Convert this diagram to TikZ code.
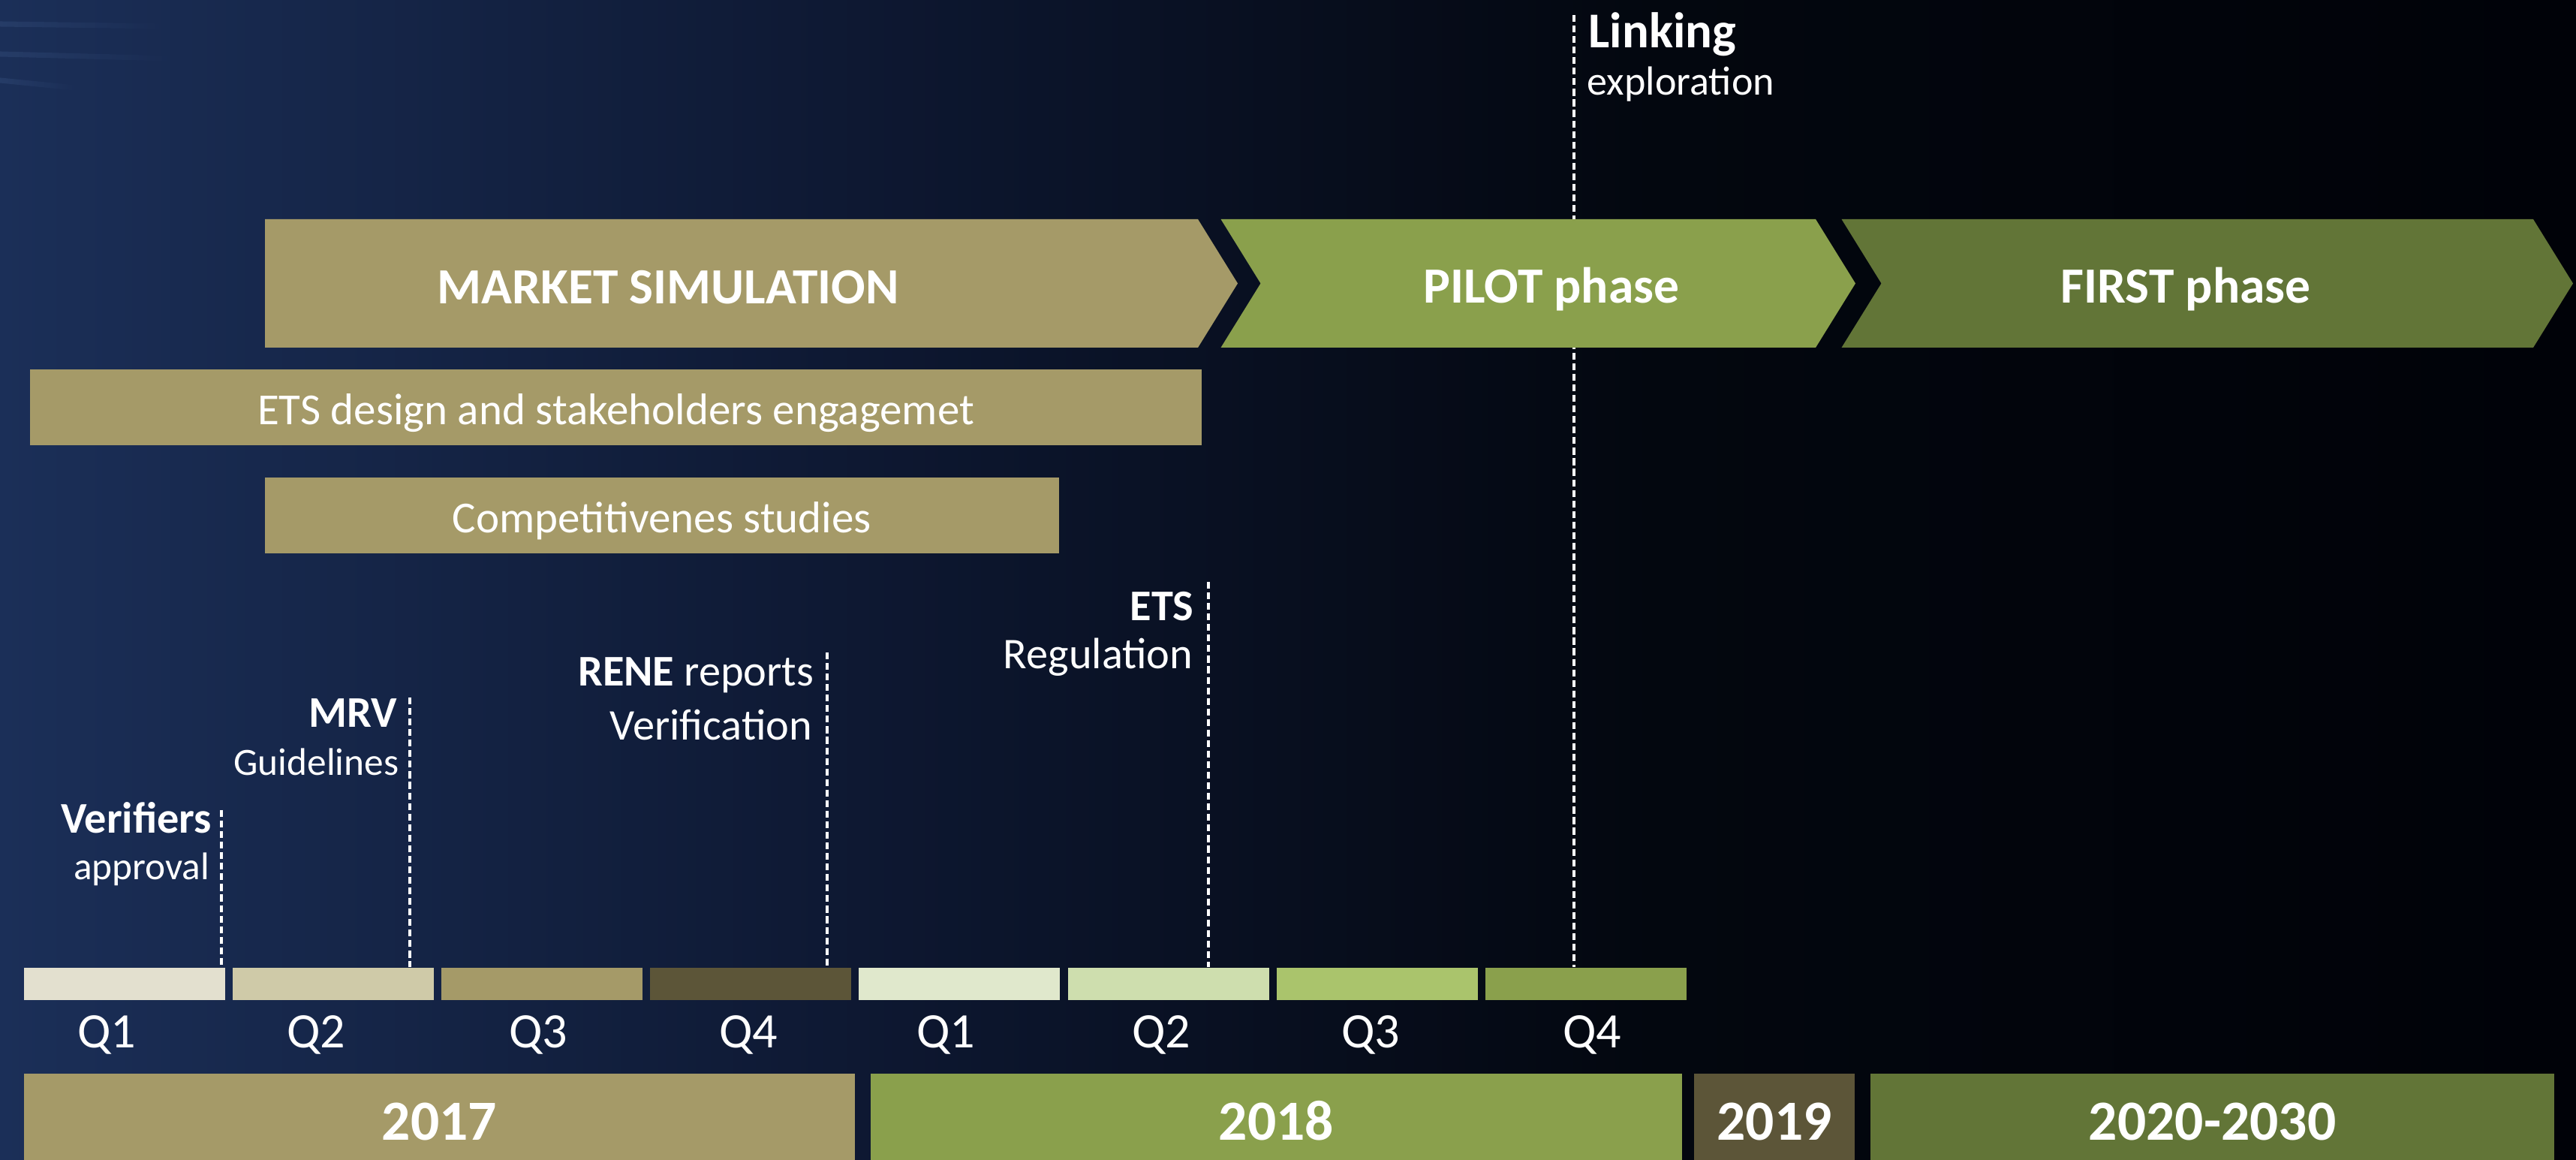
\documentclass[tikz,border=0pt]{standalone}
\usepackage{fontspec}
\setmainfont{Carlito}
\usetikzlibrary{fadings}
\definecolor{bgA}{HTML}{1B2F58}
\definecolor{bgB}{HTML}{0D1730}
\definecolor{bgC}{HTML}{03070F}
\definecolor{bgD}{HTML}{000208}
\definecolor{streakblue}{HTML}{5A7BB0}
\definecolor{sand}{HTML}{A59A68}
\definecolor{pilot}{HTML}{8AA04C}
\definecolor{firstgreen}{HTML}{627537}
\definecolor{umber}{HTML}{5C5538}
\definecolor{qsandA}{HTML}{E3E0CF}
\definecolor{qsandB}{HTML}{CFCAA8}
\definecolor{qgreenA}{HTML}{E0E8CC}
\definecolor{qgreenB}{HTML}{CEDEAE}
\definecolor{qgreenC}{HTML}{AAC46C}
\begin{document}
\begin{tikzpicture}[
    phase/.style ={text=white, anchor=base, inner sep=0pt,
        font=\fontsize{19.2pt}{23pt}\selectfont\bfseries},
    taskbar/.style ={fill=sand, text=white, inner sep=0pt,
        text height=0.74cm, text depth=0.27cm,
        font=\fontsize{16.8pt}{20pt}\selectfont},
    qbar/.style ={rectangle, inner sep=0pt, minimum width=2.68cm, minimum height=0.43cm},
    qlabel/.style ={text=white, anchor=base, inner sep=0pt,
        font=\fontsize{18.8pt}{22pt}\selectfont},
    yearbar/.style ={fill=#1, text=white, inner sep=0pt,
        text height=0.89cm, text depth=0.26cm,
        font=\fontsize{21.5pt}{26pt}\selectfont\bfseries},
    milestone/.style ={text=white, inner sep=0pt,
        font=\fontsize{16.6pt}{20pt}\selectfont\bfseries},
    subnote/.style ={text=white, inner sep=0pt,
        font=\fontsize{16.6pt}{20pt}\selectfont},
    guide/.style ={white, line width=1pt, dash pattern=on 2.6pt off 1.4pt},
    streak/.style ={streakblue, line width=2pt, line cap=round, opacity=0.18, path fading=east}]

   % background
   \useasboundingbox (0,0) rectangle (34.32,15.45);
   \shade[left color=bgA, right color=bgB] (0,0) rectangle (12.02,15.45);
   \shade[left color=bgB, right color=bgC] (12,0) rectangle (22.02,15.45);
   \shade[left color=bgC, right color=bgD] (22,0) rectangle (34.32,15.45);
   \draw[streak] (0,15.13) -- (2.2,15.10);
   \draw[streak] (0,14.73) -- (2.3,14.67);
   \draw[streak] (0,14.38) -- (1.0,14.28);

   % quarters
   \foreach \i/\col/\lx/\q in {0/qsandA/1.42/Q1, 1/qsandB/4.21/Q2, 2/sand/7.17/Q3, 3/umber/9.97/Q4,
       4/qgreenA/12.60/Q1, 5/qgreenB/15.47/Q2, 6/qgreenC/18.26/Q3, 7/pilot/21.21/Q4} {
      \node[qbar, fill=\col] (q\i) at (1.66+2.781*\i,2.345) {};
      \node[qlabel] (ql\i) at (\lx,1.49) {\q};
   }

   % milestones
   \coordinate (verifiers top) at (2.95,4.66);
   \coordinate (mrv top) at (5.46,6.16);
   \coordinate (rene top) at (11.02,6.76);
   \coordinate (ets top) at (16.10,7.70);
   \coordinate (linking top) at (20.97,15.25);
   \draw[guide] (verifiers top) -- (verifiers top |- q0.north);
   \draw[guide] (mrv top) -- (mrv top |- q1.north);
   \draw[guide] (rene top) -- (rene top |- q3.north);
   \draw[guide] (ets top) -- (ets top |- q5.north);
   \draw[guide] (linking top) -- (linking top |- q7.north);

   \node[milestone, anchor=base east] (verifiers) at (2.83,4.357) {Verifiers};
   \node[subnote, anchor=base east, font=\fontsize{14.6pt}{18pt}\selectfont] (approval) at (2.80,3.733) {approval};
   \node[milestone, anchor=base east] (mrv) at (5.30,5.76) {MRV};
   \node[subnote, anchor=base east, font=\fontsize{14.6pt}{18pt}\selectfont] (guidelines) at (5.32,5.12) {Guidelines};
   \node[subnote, anchor=base east] (rene) at (10.85,6.31) {\textbf{RENE} reports};
   \node[subnote, anchor=base east] (verification) at (10.83,5.59) {Verification};
   \node[milestone, anchor=base east] (ets) at (15.91,7.183) {ETS};
   \node[subnote, anchor=base east] (regulation) at (15.90,6.54) {Regulation};
   \node[milestone, anchor=base west, font=\fontsize{19pt}{23pt}\selectfont\bfseries] (linking) at (21.16,14.817) {Linking};
   \node[subnote, anchor=base west, font=\fontsize{15.4pt}{19pt}\selectfont] (exploration) at (21.14,14.183) {exploration};

   % phases
   \fill[sand] (3.53,12.53) -- (15.96,12.53) -- (16.49,11.675) -- (15.96,10.82) -- (3.53,10.82) -- cycle;
   \fill[pilot] (16.265,12.53) -- (24.19,12.53) -- (24.72,11.675) -- (24.19,10.82) -- (16.265,10.82) -- (16.795,11.675) -- cycle;
   \fill[firstgreen] (24.535,12.53) -- (33.75,12.53) -- (34.28,11.675) -- (33.75,10.82) -- (24.535,10.82) -- (25.065,11.675) -- cycle;
   \node[phase] (market) at (8.90,11.40) {MARKET SIMULATION};
   \node[phase] (pilot phase) at (20.67,11.41) {PILOT phase};
   \node[phase] (first phase) at (29.12,11.41) {FIRST phase};

   % activities
   \node[taskbar, minimum width=15.61cm] (design) at (8.205,10.025) {ETS design and stakeholders engagemet};
   \node[taskbar, minimum width=10.575cm] (compet) at (8.8175,8.585) {Competitivenes studies};

   % years
   \node[yearbar=sand, minimum width=11.07cm] (y2017) at (5.855,0.575) {2017};
   \node[yearbar=pilot, minimum width=10.81cm] (y2018) at (17.005,0.575) {2018};
   \node[yearbar=umber, minimum width=2.14cm] (y2019) at (23.64,0.575) {2019};
   \node[yearbar=firstgreen, minimum width=9.11cm] (y2020) at (29.475,0.575) {2020-2030};
 \end{tikzpicture}
\end{document}
